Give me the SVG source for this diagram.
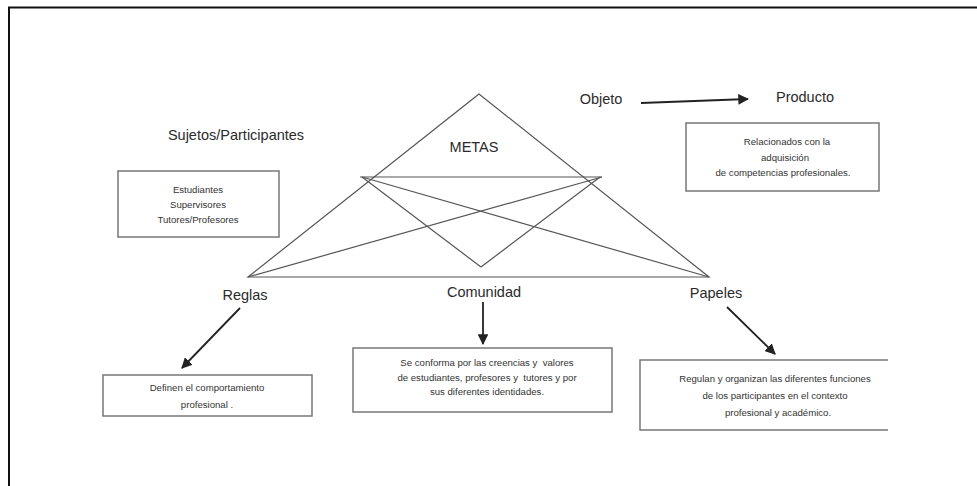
<svg xmlns="http://www.w3.org/2000/svg" width="977" height="486" viewBox="0 0 977 486">
<style>
  .lbl{font-family:"Liberation Sans","Open Sans",Arial,sans-serif;font-size:14.5px;fill:#2a2a2a;text-anchor:middle}
  .small{font-family:"Liberation Sans","Open Sans",Arial,sans-serif;font-size:9.6px;fill:#333;text-anchor:middle}
  .box{fill:none;stroke:#777;stroke-width:1.5}
  .tri{fill:none;stroke:#555;stroke-width:1.2}
  .arr{fill:none;stroke:#222;stroke-width:1.8}
</style>
<defs>
  <marker id="ah" viewBox="0 0 10 10" refX="9" refY="5" markerWidth="6" markerHeight="6" orient="auto" markerUnits="strokeWidth">
    <path d="M0,0 L10,5 L0,10 Z" fill="#222"/>
  </marker>
</defs>
<rect width="977" height="486" fill="#fff"/>
<g id="frame">
  <line x1="8" y1="7.5" x2="977" y2="7.5" stroke="#111" stroke-width="2"/>
  <line x1="9" y1="7" x2="9" y2="486" stroke="#111" stroke-width="2"/>
</g>
<g id="connectors">
  <polygon class="tri" points="479,94 248,277 709,277"/>
  <line class="tri" x1="360" y1="177" x2="602" y2="177"/>
  <line class="tri" x1="362" y1="177" x2="481" y2="267"/>
  <line class="tri" x1="600" y1="177" x2="481" y2="267"/>
  <line class="tri" x1="362" y1="177" x2="709" y2="277"/>
  <line class="tri" x1="602" y1="177" x2="248" y2="277"/>
  <line class="arr" x1="641" y1="103" x2="748" y2="99" marker-end="url(#ah)"/>
  <line class="arr" x1="240" y1="308" x2="182" y2="368" marker-end="url(#ah)"/>
  <line class="arr" x1="483" y1="302" x2="483" y2="344" marker-end="url(#ah)"/>
  <line class="arr" x1="727" y1="307" x2="775" y2="354" marker-end="url(#ah)"/>
</g>
<g id="metas"><text class="lbl" x="474" y="152">METAS</text></g>
<g id="sujetos">
  <text class="lbl" x="236" y="140">Sujetos/Participantes</text>
  <rect class="box" x="118" y="171" width="161" height="66"/>
  <text class="small" x="198" y="193">Estudiantes</text>
  <text class="small" x="198" y="208">Supervisores</text>
  <text class="small" x="198" y="223">Tutores/Profesores</text>
</g>
<g id="objeto"><text class="lbl" x="601" y="104">Objeto</text></g>
<g id="producto">
  <text class="lbl" x="805" y="102">Producto</text>
  <rect class="box" x="686" y="123" width="193" height="68"/>
  <text class="small" x="787" y="145">Relacionados con la</text>
  <text class="small" x="785" y="161">adquisición</text>
  <text class="small" x="783" y="176">de competencias profesionales.</text>
</g>
<g id="reglas">
  <text class="lbl" x="245" y="300">Reglas</text>
  <rect class="box" x="103" y="375" width="209" height="41"/>
  <text class="small" x="207" y="391">Definen el comportamiento</text>
  <text class="small" x="207" y="408">profesional .</text>
</g>
<g id="comunidad">
  <text class="lbl" x="484" y="297">Comunidad</text>
  <rect class="box" x="353" y="348" width="259" height="64"/>
  <text class="small" x="487" y="366" xml:space="preserve">Se conforma por las creencias y  valores</text>
  <text class="small" x="487" y="381" xml:space="preserve">de estudiantes, profesores y  tutores y por</text>
  <text class="small" x="487" y="395">sus diferentes identidades.</text>
</g>
<g id="papeles">
  <text class="lbl" x="716" y="298">Papeles</text>
  <path class="box" d="M888,360 L640,360 L640,430 L888,430"/>
  <text class="small" x="775" y="382">Regulan y organizan las diferentes funciones</text>
  <text class="small" x="775" y="399">de los participantes en el contexto</text>
  <text class="small" x="778" y="416">profesional y académico.</text>
</g>
</svg>
